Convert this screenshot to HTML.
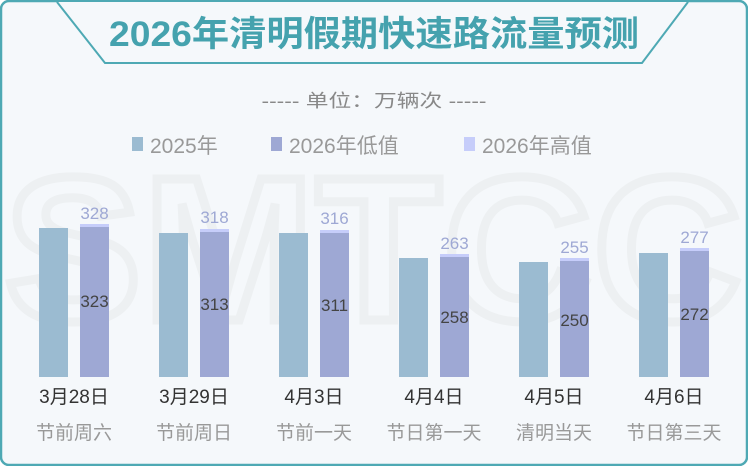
<!DOCTYPE html>
<html><head><meta charset="utf-8"><style>
body{margin:0;width:748px;height:466px;overflow:hidden;background:#fff}
</style></head><body>
<svg width="748" height="466" xmlns="http://www.w3.org/2000/svg" font-family="Liberation Sans, Noto Sans CJK SC, sans-serif">
<rect x="1" y="1" width="746" height="464" rx="8" fill="#f5f8fb" stroke="#4ea9b4" stroke-width="2.5"/>
<text x="374" y="320" text-anchor="middle" font-size="205" font-weight="bold" fill="none" stroke="#edf0f2" stroke-width="9" letter-spacing="2">SMTCC</text>
<path d="M57 2 L105 63 L642 63 L688 2" fill="#f5f8fb" stroke="#4ea9b4" stroke-width="2"/>
<text x="374" y="46" text-anchor="middle" font-size="35" font-weight="bold" fill="#45a2ae" textLength="530" lengthAdjust="spacingAndGlyphs">2026年清明假期快速路流量预测</text>
<text x="374" y="107" text-anchor="middle" font-size="18" fill="#888" textLength="225" lengthAdjust="spacingAndGlyphs">----- 单位：万辆次 -----</text>
<rect x="132" y="137" width="11" height="14" fill="#9bbbd1"/>
<text x="150" y="153" font-size="21" fill="#999">2025年</text>
<rect x="271" y="137" width="11" height="14" fill="#9ea8d4"/>
<text x="289" y="153" font-size="21" fill="#999">2026年低值</text>
<rect x="464" y="137" width="11" height="14" fill="#c6cdfa"/>
<text x="482" y="153" font-size="21" fill="#999">2026年高值</text>
<g font-size="17">
<g>
<rect x="39" y="228" width="29" height="149" fill="#9bbbd1"/>
<rect x="80" y="224" width="29" height="3" fill="#c6cdfa"/>
<rect x="80" y="227" width="29" height="150" fill="#9ea8d4"/>
<text x="94.5" y="219" text-anchor="middle" fill="#9ea8d4">328</text>
<text x="94.5" y="307" text-anchor="middle" fill="#444">323</text>
<text x="74" y="403" text-anchor="middle" fill="#333" font-size="19">3月28日</text>
<text x="74" y="439" text-anchor="middle" fill="#999" font-size="19">节前周六</text>
</g>
<g>
<rect x="159" y="233" width="29" height="144" fill="#9bbbd1"/>
<rect x="200" y="229" width="29" height="3" fill="#c6cdfa"/>
<rect x="200" y="232" width="29" height="145" fill="#9ea8d4"/>
<text x="214.5" y="223" text-anchor="middle" fill="#9ea8d4">318</text>
<text x="214.5" y="310" text-anchor="middle" fill="#444">313</text>
<text x="194" y="403" text-anchor="middle" fill="#333" font-size="19">3月29日</text>
<text x="194" y="439" text-anchor="middle" fill="#999" font-size="19">节前周日</text>
</g>
<g>
<rect x="279" y="233" width="29" height="144" fill="#9bbbd1"/>
<rect x="320" y="230" width="29" height="3" fill="#c6cdfa"/>
<rect x="320" y="233" width="29" height="144" fill="#9ea8d4"/>
<text x="334.5" y="224" text-anchor="middle" fill="#9ea8d4">316</text>
<text x="334.5" y="311" text-anchor="middle" fill="#444">311</text>
<text x="314" y="403" text-anchor="middle" fill="#333" font-size="19">4月3日</text>
<text x="314" y="439" text-anchor="middle" fill="#999" font-size="19">节前一天</text>
</g>
<g>
<rect x="399" y="258" width="29" height="119" fill="#9bbbd1"/>
<rect x="440" y="254" width="29" height="3" fill="#c6cdfa"/>
<rect x="440" y="257" width="29" height="120" fill="#9ea8d4"/>
<text x="454.5" y="249" text-anchor="middle" fill="#9ea8d4">263</text>
<text x="454.5" y="323" text-anchor="middle" fill="#444">258</text>
<text x="434" y="403" text-anchor="middle" fill="#333" font-size="19">4月4日</text>
<text x="434" y="439" text-anchor="middle" fill="#999" font-size="19">节日第一天</text>
</g>
<g>
<rect x="519" y="262" width="29" height="115" fill="#9bbbd1"/>
<rect x="560" y="258" width="29" height="3" fill="#c6cdfa"/>
<rect x="560" y="261" width="29" height="116" fill="#9ea8d4"/>
<text x="574.5" y="253" text-anchor="middle" fill="#9ea8d4">255</text>
<text x="574.5" y="326" text-anchor="middle" fill="#444">250</text>
<text x="554" y="403" text-anchor="middle" fill="#333" font-size="19">4月5日</text>
<text x="554" y="439" text-anchor="middle" fill="#999" font-size="19">清明当天</text>
</g>
<g>
<rect x="639" y="253" width="29" height="124" fill="#9bbbd1"/>
<rect x="680" y="248" width="29" height="3" fill="#c6cdfa"/>
<rect x="680" y="251" width="29" height="126" fill="#9ea8d4"/>
<text x="694.5" y="243" text-anchor="middle" fill="#9ea8d4">277</text>
<text x="694.5" y="320" text-anchor="middle" fill="#444">272</text>
<text x="674" y="403" text-anchor="middle" fill="#333" font-size="19">4月6日</text>
<text x="674" y="439" text-anchor="middle" fill="#999" font-size="19">节日第三天</text>
</g>
</g>
</svg>
</body></html>
